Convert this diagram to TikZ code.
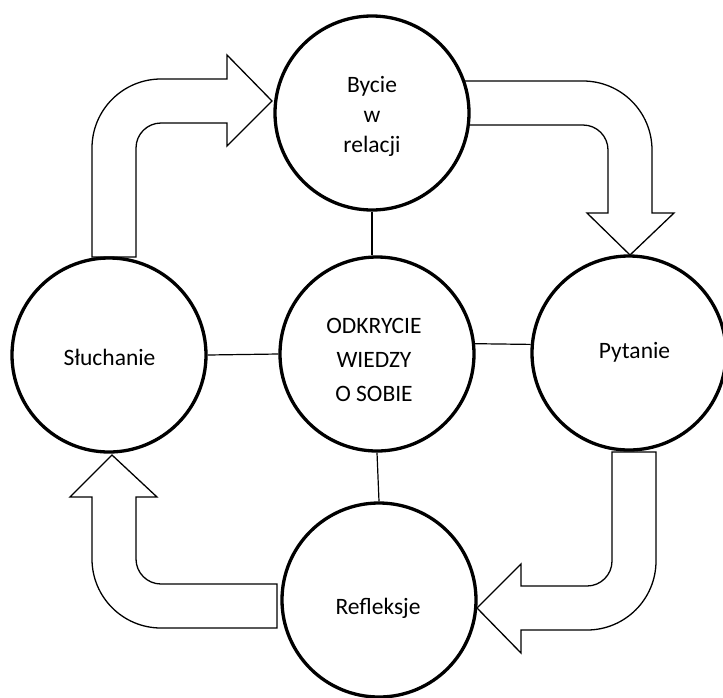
\documentclass[tikz,border=0pt]{standalone}
\usepackage{fontspec}
\setmainfont{Carlito}
\begin{document}
\begin{tikzpicture}[x=1pt,y=-1pt,
  bubble/.style={circle,draw=black,line width=3.3pt,fill=white,minimum size=194pt,inner sep=0pt},
  txt/.style={align=center,inner sep=0pt,text height=0pt,text depth=0pt,font=\fontsize{23.5}{30}\selectfont},
  txtc/.style={txt,font=\fontsize{23.5}{34}\selectfont},
  blockarrow/.style={draw=black,line width=1.3pt,fill=white,line join=miter},
  link/.style={draw=black,line width=1.2pt}]
\useasboundingbox (0,0) rectangle (723,697);
% block arrows
\draw[blockarrow] (92,257) -- (92,148) arc[start angle=180,end angle=90,radius=69pt]
  -- (227,79) -- (227,55) -- (272,101) -- (227,146) -- (227,123) -- (161,123)
  arc[start angle=90,end angle=180,radius=25pt] -- (136,257) -- cycle;
\draw[blockarrow] (464,81) -- (583,81) arc[start angle=90,end angle=0,radius=69pt]
  -- (652,213) -- (674,213) -- (630,255) -- (587,213) -- (608,213) -- (608,150)
  arc[start angle=0,end angle=90,radius=25pt] -- (464,125) -- cycle;
\draw[blockarrow] (612,452) -- (612,561) arc[start angle=0,end angle=-90,radius=25pt]
  -- (521,586) -- (521,564) -- (477,608) -- (521,653) -- (521,630) -- (587,630)
  arc[start angle=-90,end angle=0,radius=69pt] -- (656,452) -- cycle;
\draw[blockarrow] (277,584) -- (161,584) arc[start angle=-90,end angle=-180,radius=25pt]
  -- (136,497) -- (157,497) -- (112,455) -- (70,497) -- (92,497) -- (92,559)
  arc[start angle=180,end angle=270,radius=69pt] -- (277,628) -- cycle;
% circles
\node[bubble] (top) at (372,113) {};
\node[bubble] (center) at (377,354) {};
\node[bubble] (left) at (109,355) {};
\node[bubble] (right) at (629,353) {};
\node[bubble] (bottom) at (379,600) {};
% texts (node centre = baseline of last line)
\node[txt] (toptext) at (372,152.7) {Bycie\\w\\relacji};
\node[txtc] (centertext) at (374,401) {ODKRYCIE\\WIEDZY\\O SOBIE};
\node[txt] (lefttext) at (109.5,365) {Słuchanie};
\node[txt] (righttext) at (634.5,358) {Pytanie};
\node[txt] (bottomtext) at (378,614) {Refleksje};
% connectors
\draw[link] (top.south) -- (top.south |- center.north);
\draw[link] (left.east) -- (center.west);
\draw[link] (center.6.5) -- (right.175);
\draw[link] (center.south) -- (bottom.north);
\end{tikzpicture}
\end{document}
